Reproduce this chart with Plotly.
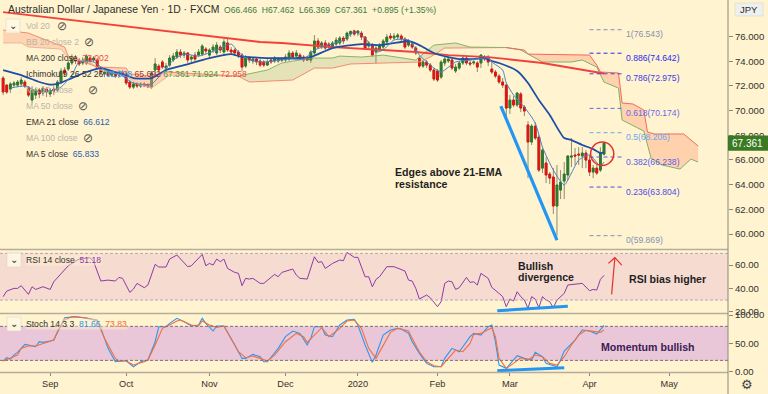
import plotly.graph_objects as go
import numpy as np

BG = "#FFF3D0"
W, H, AX = 768, 394, 728

opens = [72.63,72.06,71.74,72.06,72.06,72.15,72.31,71.90,70.85,71.25,
71.66,71.42,71.74,71.34,71.74,71.66,72.31,73.28,73.36,73.85,
74.25,74.09,73.85,73.85,74.25,74.09,74.09,73.44,72.96,73.12,
72.87,72.96,72.87,73.12,73.04,72.31,71.90,72.15,71.98,72.15,
72.06,71.90,73.28,73.60,73.93,73.44,73.68,74.09,74.33,74.74,
74.49,74.66,74.17,74.49,74.49,74.57,74.98,74.49,74.90,74.66,
75.14,74.74,75.47,74.90,74.90,74.74,74.49,73.60,74.25,74.01,
74.17,74.01,73.93,73.68,74.09,74.01,74.01,74.17,74.09,74.17,
74.66,74.41,74.49,74.33,74.25,74.09,74.66,75.63,75.22,75.47,
75.38,75.14,75.38,75.47,75.87,75.79,76.19,76.45,76.27,76.27,
75.95,75.22,75.30,74.74,74.98,75.14,75.55,76.03,75.87,75.95,
76.03,75.79,75.30,75.38,75.06,74.25,73.60,73.93,73.68,73.28,
73.20,72.71,73.85,74.01,74.09,73.20,73.44,73.85,74.25,73.85,
73.85,73.85,73.85,74.33,74.33,73.36,73.12,72.79,72.31,72.06,
70.20,70.85,70.45,71.34,70.28,68.83,67.45,68.74,67.85,65.34,
65.75,64.86,64.62,62.27,63.56,64.29,64.78,66.23,66.40,66.48,
66.32,66.56,65.99,65.02,65.34,65.18,66.466]
highs = [72.79,72.15,72.31,72.39,72.47,72.71,72.47,71.98,71.98,71.82,
71.82,71.98,71.90,71.82,71.98,72.47,73.44,73.52,74.09,74.57,
74.49,74.25,74.33,74.57,74.41,74.41,74.25,73.60,73.36,73.28,
73.28,73.12,73.28,73.28,73.20,72.47,72.31,72.31,72.31,72.31,
72.23,73.20,74.25,73.77,74.09,73.85,74.49,74.66,74.98,74.98,
74.82,74.74,74.49,74.74,74.98,75.38,75.14,75.06,75.38,75.55,
75.30,75.79,75.79,75.14,75.06,74.90,74.66,74.49,74.41,74.33,
74.33,74.17,74.09,74.17,74.25,74.41,74.33,74.33,74.57,74.90,
74.82,74.90,74.66,74.49,74.41,74.90,76.11,75.87,75.63,75.71,
75.55,75.63,75.95,76.03,76.03,76.40,76.50,76.54,76.50,76.44,
76.03,75.63,75.47,75.22,75.47,75.79,76.19,76.27,76.27,76.27,
76.19,75.95,75.79,75.55,75.22,74.41,74.09,74.09,73.85,73.44,
73.36,74.09,74.41,74.33,74.25,73.77,74.01,74.41,74.41,74.01,
74.09,74.01,74.57,74.49,74.49,74.09,73.28,72.96,72.63,72.15,
71.25,71.17,71.50,71.50,70.45,69.15,68.91,69.07,68.02,66.96,
66.23,65.02,65.34,65.59,65.18,65.83,66.40,67.77,66.96,67.04,
67.04,66.80,66.40,65.59,65.59,67.04,67.462]
lows = [71.25,71.34,71.42,71.90,71.90,71.90,71.82,71.09,70.61,70.93,
71.01,71.17,71.09,71.09,71.25,71.50,72.15,72.79,73.20,73.68,
73.77,73.60,73.68,73.68,73.77,73.93,73.28,72.87,72.71,72.71,
72.71,72.63,72.63,72.79,72.06,71.74,71.74,71.82,71.82,71.90,
71.82,71.74,72.87,73.04,73.36,73.20,73.52,73.93,74.17,74.25,
74.25,73.85,73.93,74.01,74.33,74.41,74.57,74.33,74.66,74.49,
74.66,74.41,74.74,74.49,74.41,74.25,73.20,73.44,73.85,73.77,
73.68,73.52,73.52,73.60,73.77,73.85,73.85,73.93,73.93,74.01,
74.17,74.25,74.09,73.93,74.01,73.85,74.49,74.98,74.98,74.90,
74.98,74.98,75.22,75.30,75.38,75.63,75.95,76.03,76.03,75.71,
74.90,74.90,74.33,73.85,74.82,74.98,75.38,75.71,75.71,75.79,
75.63,74.98,75.14,74.98,74.49,73.44,73.44,73.44,73.12,72.39,
72.31,72.55,73.60,73.85,73.28,73.04,73.28,73.68,73.68,73.60,
73.68,73.12,73.44,74.01,73.60,72.96,72.63,72.15,71.82,69.47,
69.72,70.28,70.28,69.88,69.55,64.53,67.21,67.61,65.02,64.94,
64.13,64.05,61.62,59.87,62.83,62.83,64.37,65.42,65.59,65.59,
65.34,65.34,64.70,64.53,64.78,65.02,66.369]
closes = [71.50,71.50,72.15,72.23,72.31,72.47,71.98,71.25,71.66,71.66,
71.34,71.82,71.50,71.66,71.58,72.31,73.20,73.04,73.85,74.33,
74.01,73.77,74.09,74.41,74.01,74.25,73.44,73.12,73.12,72.87,
73.12,72.79,73.12,72.96,72.23,71.90,72.15,71.98,72.15,71.98,
71.90,73.04,73.77,73.28,73.52,73.60,74.25,74.41,74.74,74.49,
74.66,74.09,74.33,74.17,74.74,75.22,74.82,74.90,75.14,75.30,
74.90,75.55,74.90,74.74,74.66,74.49,73.52,74.25,74.09,74.17,
73.93,73.68,73.68,73.93,73.93,74.25,74.17,74.09,74.33,74.66,
74.33,74.66,74.25,74.09,74.09,74.74,75.63,75.14,75.47,75.06,
75.14,75.47,75.71,75.87,75.63,76.27,76.40,76.19,76.44,75.95,
75.06,75.47,74.49,75.06,75.30,75.63,75.95,75.87,76.03,76.11,
75.79,75.14,75.63,75.14,74.66,73.60,73.93,73.68,73.28,72.55,
72.47,73.93,74.17,74.17,73.44,73.52,73.85,74.25,73.85,73.77,
73.93,73.52,74.49,74.17,73.93,73.12,72.79,72.31,72.06,70.20,
70.85,70.45,71.42,70.20,69.96,67.45,68.74,67.77,65.18,66.80,
64.78,64.53,62.27,63.97,64.21,64.86,66.32,66.32,66.32,66.40,
66.56,65.99,65.02,65.34,64.94,66.56,67.361]

ema21_idx = [0,5,10,13,15,19,23,27,31,34,36,41,45,50,57,63,65,68,73,81,85,91,99,104,110,112,115,119,123,126,130,133,135,137,142,145,148,151,155,157,160,163,165,166]
ema21 = [73.28,72.87,72.31,72.10,72.15,72.63,73.12,73.44,73.12,72.87,72.63,72.63,73.28,73.68,74.25,74.57,74.41,74.33,74.25,74.25,74.33,75.06,75.38,75.30,75.55,75.63,75.30,74.66,74.33,74.17,74.17,74.25,74.01,73.85,73.20,72.23,70.85,69.64,67.77,67.61,67.21,66.88,66.56,66.612]
ma5_idx = [2,6,10,14,16,19,21,25,29,32,36,41,45,47,50,54,59,63,65,68,72,79,83,86,90,94,97,100,103,105,108,112,115,119,121,125,129,134,135,138,139,141,144,147,149,152,155,157,159,162,165,166]
ma5 = [71.82,71.98,71.50,71.66,71.90,72.87,73.93,73.93,73.12,72.96,72.23,72.15,73.44,74.09,74.57,74.41,74.90,75.38,74.74,74.09,73.93,74.17,74.17,74.90,75.30,75.71,76.36,75.87,74.74,74.90,75.71,75.71,74.49,73.44,73.12,73.93,74.09,74.25,73.93,73.28,72.23,71.26,70.28,68.99,67.04,65.18,63.97,64.94,65.99,66.40,65.51,65.833]
ma200_idx = [0,61,71,77,91,105,114,123,134,149,163,166]
ma200 = [77.97,75.87,75.55,75.47,75.14,74.90,74.74,74.49,74.33,73.85,73.12,73.00]

span_b_1_idx = [0,7,14,17,18,26,34,35,41,45,65]
span_b_1 = [76.52,76.27,75.47,75.14,74.41,73.52,73.44,72.96,72.79,73.12,72.79]
span_a_1_idx = [0,5,7,16,18,24,27,34,37,41,46,65]
span_a_1 = [75.47,75.47,75.14,74.98,74.25,73.93,73.28,72.79,72.15,71.82,72.87,72.79]
span_a_2_idx = [65,73,77,85,91,93,99,105,114,119,125,129,139]
span_a_2 = [72.79,73.28,73.85,74.25,74.25,74.41,74.33,74.49,74.09,75.30,75.47,75.14,75.10]
span_b_2_idx = [65,68,80,86,91,96,115,118,122,139]
span_b_2 = [72.79,72.31,72.47,73.44,73.44,73.77,73.93,74.33,75.06,75.10]
span_b_3_idx = [139,144,145,162,164,165,170,171,174,177,178,180,188,192]
span_b_3 = [75.10,74.90,74.57,74.49,73.68,73.12,73.04,70.61,70.53,70.04,68.26,68.10,68.10,67.13]
span_a_3_idx = [139,143,149,157,160,164,166,170,171,177,179,182,187,190,192]
span_a_3 = [75.10,74.90,73.93,73.93,74.09,73.52,72.31,71.82,69.23,68.34,66.15,65.59,65.26,66.07,65.83]

rsi_idx = [0,1,3,4,5,7,8,9,11,13,14,16,18,20,21,24,25,27,29,31,32,33,35,36,37,39,40,42,43,45,46,48,51,52,55,56,57,58,59,60,61,62,64,65,66,67,68,69,71,72,75,76,77,80,81,82,84,86,87,88,89,91,93,94,95,97,98,100,101,102,103,104,106,108,110,111,112,113,114,115,117,118,120,121,122,123,124,125,126,128,129,130,131,132,134,135,137,138,139,140,141,142,143,144,145,146,147,148,149,150,151,152,153,155,156,160,162,163,164,165,166]
rsi = [32.9,37.7,40,40,42.3,34.9,41.4,39.1,41.4,39.1,45.7,52.9,59.4,63.4,65.1,66.3,62.9,46.3,47.1,46.3,49.4,48.6,36.6,39.4,44.3,40.6,42.9,60.6,58.3,58.3,65.1,68.6,58.6,59.4,69.1,59.4,61.4,60,65.1,62.9,65.1,57.1,53.7,52.9,42.3,48.6,48,48.6,44.3,44.3,52,50,53.7,56.6,51.4,48.6,48,67.1,62.3,62.9,57.1,61.4,64.3,63.7,70.9,66.6,66.6,50,50,41.4,47.7,50,58.6,58.6,55.7,54.9,47.1,46.3,40,30.9,34.3,32,24.3,28.6,44.3,46.3,45.7,39.1,40.6,49.4,45.1,45.7,42.9,52.9,48.6,40.9,35.7,32.9,24.3,30.9,29.1,37.1,32.9,30,22.9,32.9,30.9,23.4,32.9,30,28.6,23.4,30,35.7,42.9,44.3,38,39.1,38.6,47.7,51.18]

k_idx = [0,1,2,3,4,6,7,9,10,11,13,14,16,17,20,23,26,27,29,31,34,36,38,40,42,43,45,46,48,50,52,54,55,56,58,59,61,64,66,67,69,71,72,73,76,78,80,82,84,85,86,88,89,91,93,95,97,98,100,102,103,105,107,109,110,112,113,115,117,118,119,121,122,124,126,127,129,130,132,134,135,136,137,139,141,142,144,146,147,149,150,153,154,155,158,160,162,164,166]
k = [18.8,24.7,22.4,29.4,34.1,48.2,47.1,44.1,52.9,51.8,54.1,55.9,82.4,95.3,97.1,94.1,91.2,76.5,41.2,17.6,19.4,8.8,17.6,20.6,52.9,79.4,79.4,85.3,94.1,88.2,80.6,82.4,94.1,85.3,71.8,80.6,80.6,47.1,23.5,23.5,30.6,26.5,17.6,17.6,41.2,61.8,71.8,67.6,47.1,58.8,79.4,79.4,64.7,61.8,82.4,91.2,92.4,82.4,47.1,16.5,29.4,64.7,73.5,76.5,75.3,67.6,52.9,32.4,14.7,11.8,8.8,8.8,23.5,41.2,35.3,44.1,61.8,67.6,64.7,79.4,82.4,52.9,11.8,5.9,20.6,28.2,23.5,20.6,34.1,26.5,14.7,8.8,20.6,36.5,55.9,73.5,71.8,66.5,81.66]
d_idx = [0,2,4,5,7,9,11,14,15,17,19,23,26,28,31,32,34,36,39,40,42,44,46,48,49,52,54,55,57,59,61,63,65,67,69,71,73,75,78,81,83,84,86,88,90,93,95,97,99,101,103,105,107,109,110,112,113,115,117,119,121,124,125,127,129,130,132,135,136,137,139,141,143,145,147,149,151,153,155,157,159,161,163,165,166]
d = [18.8,23.5,29.4,41.2,45.9,45.3,50,55.9,70.6,91.2,97.1,95.3,89.4,58.8,23.5,19.4,18.8,11.8,17.6,20.6,47.1,76.5,82.4,89.4,91.2,82.4,80.6,89.4,82.4,78.2,80.6,58.8,35.3,24.7,27.6,23.5,18.8,29.4,52.9,67.6,61.8,51.8,64.7,77.6,61.8,76.5,89.4,91.2,76.5,41.2,23.5,47.1,69.4,76.5,74.7,71.8,58.8,35.3,17.6,10.6,8.8,32.4,38.2,35.3,50,65.9,67.6,77.6,61.8,23.5,5.9,14.7,24.7,20.6,29.4,26.5,14.7,11.8,26.5,47.1,64.7,72.9,70.6,69.4,73.83]

fib_ratios = ["1","0.886","0.786","0.618","0.5","0.382","0.236","0"]
fib_levels = [76.543,74.642,72.975,70.174,68.206,66.238,63.804,59.869]
fib_colors = ["#7f93b5","#2a2af0","#4040e8","#6a6ae6","#6ea6ee","#5a5cea","#4b4de8","#7f93b5"]
month_ticks = [13,34,57,78,98,120,140,162,184]
month_labels = ["Sep","Oct","Nov","Dec","2020","Feb","Mar","Apr","May"]

FONT = "Liberation Sans"
GREEN, RED = "#2c7a2e", "#e0140f"
WICK = "#8d8c70"
bars = np.arange(len(closes))
fig = go.Figure()

def line(x, y, color, width, yaxis="y", shape="linear", dash=None):
    fig.add_trace(go.Scatter(x=x, y=y, mode="lines", yaxis=yaxis, hoverinfo="skip",
                             line=dict(color=color, width=width, shape=shape, smoothing=0.6, dash=dash)))

# Ichimoku cloud
for a_x, a_y, b_x, b_y, fillc, top_line, bot_line in [
    (span_a_1_idx, span_a_1, span_b_1_idx, span_b_1, "rgba(255,170,130,0.42)", "#f58a74", "#e8b89a"),
    (span_b_2_idx, span_b_2, span_a_2_idx, span_a_2, "rgba(130,170,90,0.22)", "#86b56e", "#f28b74"),
    (span_a_3_idx, span_a_3, span_b_3_idx, span_b_3, "rgba(255,170,130,0.45)", "#f4695c", "#7fb267"),
]:
    fig.add_trace(go.Scatter(x=a_x, y=a_y, mode="lines", hoverinfo="skip", line=dict(color=bot_line, width=1)))
    fig.add_trace(go.Scatter(x=b_x, y=b_y, mode="lines", hoverinfo="skip", fill="tonexty", fillcolor=fillc,
                             line=dict(color=top_line, width=1)))

# candles: wicks, then bodies
fig.add_trace(go.Candlestick(x=bars, open=opens, high=highs, low=lows, close=closes, whiskerwidth=0, hoverinfo="skip",
    increasing=dict(line=dict(color=WICK, width=1), fillcolor=WICK),
    decreasing=dict(line=dict(color=WICK, width=1), fillcolor=WICK)))
o, c = np.array(opens), np.array(closes)
fig.add_trace(go.Candlestick(x=bars, open=opens, close=closes, high=np.maximum(o, c), low=np.minimum(o, c),
    whiskerwidth=0, hoverinfo="skip",
    increasing=dict(line=dict(color=GREEN, width=1), fillcolor=GREEN),
    decreasing=dict(line=dict(color=RED, width=1), fillcolor=RED)))

line(ma200_idx, ma200, "#f4403a", 1.8)
line(ema21_idx, ema21, "#1c4fa6", 1.8, shape="spline")
line(ma5_idx, ma5, "#4a82c6", 1, shape="spline")

# fib levels
for lvl, col in zip(fib_levels, fib_colors):
    line([162, 171], [lvl, lvl], col, 1, dash="4px,3px")

# trend lines
line([137.5, 153], [70.36, 59.51], "#2196f3", 3.2)
line(rsi_idx, rsi, "#8e3aa8", 1, yaxis="y2")
line([136.5, 156], [20.9, 24.6], "#2196f3", 3, yaxis="y2")
line(k_idx, k, "#2f96ee", 1.1, yaxis="y3")
line(d_idx, d, "#f2703a", 1.1, yaxis="y3")
line([136.5, 155], [1.8, 7.1], "#2196f3", 3, yaxis="y3")
# RSI bias arrow
line([168.1, 169.0, None, 167.2, 169.0, 170.9], [34.9, 66.3, None, 61.4, 66.3, 60.0], "#e5302a", 1.2, yaxis="y2")

shapes = []
band = lambda y0, y1, ref, col: dict(type="rect", xref="paper", x0=0, x1=AX/W, yref=ref, y0=y0, y1=y1,
                                     fillcolor=col, line=dict(width=0), layer="below")
shapes.append(band(30, 70, "y2", "#f6dbd0"))
shapes.append(band(20, 80, "y3", "#e9c6d8"))
for ref, val, col in [("y2", 70, "#b9a2b0"), ("y2", 30, "#c0a2c8"), ("y3", 80, "#7d6f78"), ("y3", 20, "#7d6f78")]:
    shapes.append(dict(type="line", xref="paper", x0=0, x1=AX/W, yref=ref, y0=val, y1=val,
                       line=dict(color=col, width=1, dash="3px,2px")))
for py in (249.5, 313.5, 372.5):
    shapes.append(dict(type="line", xref="paper", x0=0, x1=AX/W, yref="paper", y0=1-py/H, y1=1-py/H,
                       line=dict(color="#b4ae9c", width=1.6)))
shapes.append(dict(type="line", xref="paper", x0=AX/W, x1=AX/W, yref="paper", y0=0, y1=1, line=dict(color="#8c8878", width=1)))
# red circle
shapes.append(dict(type="circle", xref="x", yref="y", x0=162.3, x1=168.7, y0=65.55, y1=67.45,
                   line=dict(color="#e5302a", width=1.5)))
# collapse buttons and JPY badge
for px0, py0, px1, py1, col in [(6, 19, 20, 33, "rgba(255,248,226,0.9)"), (7, 253, 21, 267, "rgba(255,248,226,0.9)"),
                                (7, 317, 21, 331, "rgba(255,248,226,0.9)"), (735, 3, 763, 16, "#eef0ee")]:
    shapes.append(dict(type="rect", xref="paper", yref="paper", x0=px0/W, x1=px1/W, y0=1-py0/H, y1=1-py1/H,
                       fillcolor=col, line=dict(color="#dcd8c8", width=0.6)))

ann = []
def text(px, py, s, size=8.6, color="#33322e", anchor="left", bold=False, bg=None):
    ann.append(dict(xref="paper", yref="paper", x=px/W, y=1-py/H, text=f"<b>{s}</b>" if bold else s, showarrow=False,
                    xanchor=anchor, yanchor="middle", align="left",
                    font=dict(family=FONT, size=size, color=color), bgcolor=bg, borderpad=0))

def span(s, col): return f'<span style="color:{col}">{s}</span>'
OG = "#3c7a44"
text(7, 10, "Australian Dollar / Japanese Yen · 1D · FXCM", size=10.4, color="#2e2e2a")
text(223, 10, "O66.466  H67.462  L66.369  C67.361  +0.895 (+1.35%)", size=8.6, color=OG)
FADE = "#b9b6aa"
text(25, 26, "Vol 20", color=FADE)
text(25, 42, "BB 20 close 2", color=FADE)
text(25, 58, "MA 200 close  " + span("73.002", "#ef4a44"))
text(25, 74, "Ichimoku 9 26 52 26 " + span("65.928", "#2f96ee") + " " + span("65.692", "#a8323a") + " "
     + span("67.361", "#4a9a4a") + " " + span("71.924", "#3f9a3f") + " " + span("72.958", "#ef4a44"))
text(25, 90, "MA 10 close", color=FADE)
text(25, 106, "MA 50 close", color=FADE)
text(25, 122, "EMA 21 close  " + span("66.612", "#2a5fb0"))
text(25, 138, "MA 100 close", color=FADE)
text(25, 154, "MA 5 close  " + span("65.833", "#2a5fb0"))
for px, py in [(62, 26), (89, 42), (93, 90), (83, 106), (88, 138)]:
    text(px, py, "⊘", size=12, color="#55534c", anchor="center")
for px, py in [(13, 26), (14, 260), (14, 324)]:
    text(px, py - 1, "⌄", size=10, color="#333", anchor="center")
text(25, 260, "RSI 14 close  " + span("51.18", "#8e3aa8"), bg="rgba(255,243,208,0.45)")
text(25, 324, "Stoch 14 3 3  " + span("81.66", "#2f96ee") + "  " + span("73.83", "#f2703a"), bg="rgba(255,243,208,0.45)")
text(394, 172, "Edges above 21-EMA", size=10.6, bold=True, color="#1f1f1f")
text(394, 184, "resistance", size=10.6, bold=True, color="#1f1f1f")
text(517, 266, "Bullish", size=10.6, bold=True, color="#1f1f1f")
text(517, 277, "divergence", size=10.6, bold=True, color="#1f1f1f")
text(628, 279, "RSI bias higher", size=10.6, bold=True, color="#1f1f1f")
text(600, 347, "Momentum bullish", size=10.6, bold=True, color="#3a2056")
text(749, 9.5, "JPY", size=9.5, color="#2a2a2a", anchor="center")
text(747, 384, "⚙", size=13, color="#444", anchor="center")

# fib labels sit just under each level
for r, lvl, col in zip(fib_ratios, fib_levels, fib_colors):
    ann.append(dict(xref="x", yref="y", x=171.6, y=lvl, yshift=-4.5, text=f"{r}({lvl})", showarrow=False, xanchor="left",
                    yanchor="middle", font=dict(family=FONT, size=8.6, color=col)))
# last price tag
shapes.append(dict(type="rect", xref="paper", yref="y", x0=AX/W, x1=1, y0=66.75, y1=67.97, fillcolor="#3a7a22", line=dict(width=0)))
ann.append(dict(xref="paper", yref="y", x=747/W, y=closes[-1], xanchor="center", text="67.361", showarrow=False,
                font=dict(family=FONT, size=10, color="white")))

axfont = dict(family=FONT, size=9.6, color="#33322e")
ycommon = dict(side="right", anchor="x", showgrid=False, zeroline=False, ticks="outside", ticklen=4, automargin=False,
               tickcolor="#8c8878", tickfont=axfont, showline=False)
fig.update_layout(
    width=W, height=H, margin=dict(l=0, r=0, t=0, b=0, autoexpand=False), paper_bgcolor=BG, plot_bgcolor=BG, showlegend=False,
    shapes=shapes, annotations=ann, hovermode=False,
    xaxis=dict(domain=[0, AX/W], range=[-0.86, 200.25], anchor="y3", tickmode="array", tickvals=month_ticks, automargin=False,
               ticktext=month_labels, ticks="outside", ticklen=3, tickcolor="#8c8878", tickfont=dict(family=FONT, size=9.2, color="#33322e"),
               showgrid=False, zeroline=False, rangeslider=dict(visible=False), showline=False),
    yaxis=dict(domain=[1-249/H, 1], range=[58.79, 78.95], tickmode="array", tickvals=list(range(60, 78, 2)),
               ticktext=[f"{v}.000" for v in range(60, 78, 2)], **ycommon),
    yaxis2=dict(domain=[1-313/H, 1-250/H], range=[18.9, 72.9], tickmode="array", tickvals=[20, 40, 60],
                ticktext=["20.00", "40.00", "60.00"], **ycommon),
    yaxis3=dict(domain=[1-372/H, 1-314/H], range=[-0.5, 101.8], tickmode="array", tickvals=[0, 50, 100],
                ticktext=["0.00", "50.00", "100.00"], **ycommon),
)
fig.write_html("out.html", config=dict(displayModeBar=False),
               post_script="document.body.style.margin='0';document.documentElement.style.background='#FFF3D0';")
